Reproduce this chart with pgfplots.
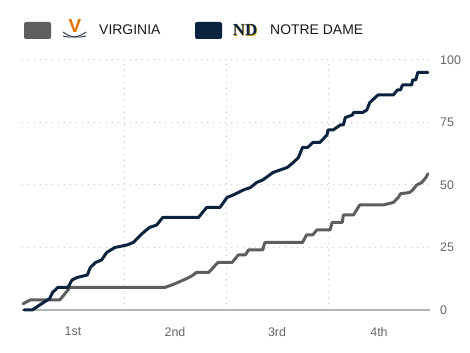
\documentclass[border=0pt]{standalone}
\usepackage{pgfplots}
\pgfplotsset{compat=1.18}
\usepackage{fontspec}
\setmainfont{Liberation Sans}
\newfontfamily\serifb{Liberation Serif}
\definecolor{uvagray}{HTML}{5E5E5E}
\definecolor{ndnavy}{HTML}{0C2340}
\definecolor{uvaorange}{HTML}{E57200}
\definecolor{uvanavy}{HTML}{232D4B}
\definecolor{ndgold}{HTML}{C99700}
\definecolor{gridc}{HTML}{C4C4C4}
\definecolor{tickc}{HTML}{666666}
\definecolor{axisc}{HTML}{B4B4B4}
\begin{document}
\begin{tikzpicture}
\path[use as bounding box] (0,0) rectangle (470bp,353bp);
% legend
\fill[uvagray, rounded corners=2bp] (24bp,314bp) rectangle (51bp,331bp);
\node[text=uvaorange, font=\bfseries\fontsize{19}{19}\selectfont, inner sep=0] at (75bp,327bp) {V};
\draw[uvanavy, line width=0.9pt] (63bp,321bp) .. controls (71bp,315bp) and (78bp,315bp) .. (86bp,317bp);
\draw[uvanavy, line width=0.9pt] (86bp,321bp) .. controls (78bp,315bp) and (71bp,315bp) .. (63bp,317bp);
\node[anchor=west, inner sep=0, text=black!90, font=\fontsize{14}{14}\selectfont] at (99bp,323bp) {VIRGINIA};
\fill[ndnavy, rounded corners=2bp] (195bp,314bp) rectangle (222bp,331bp);
\node[text=ndgold, font=\serifb\bfseries\fontsize{17}{17}\selectfont, inner sep=0] at (245.7bp,322.3bp) {ND};
\node[text=ndnavy, font=\serifb\bfseries\fontsize{17}{17}\selectfont, inner sep=0] at (245bp,323bp) {ND};
\node[anchor=west, inner sep=0, text=black!90, font=\fontsize{14}{14}\selectfont] at (270bp,323bp) {NOTRE DAME};
\begin{axis}[
  at={(22bp,43bp)}, anchor=south west,
  width=408bp, height=250bp, scale only axis,
  xmin=0, xmax=40, ymin=0, ymax=100,
  axis x line*=bottom, axis y line*=right,
  x axis line style={-, draw=axisc, line width=1.2pt},
  y axis line style={draw=none},
  xtick={5,15,25,35}, xticklabels={1st,2nd,3rd,4th},
  extra x ticks={10,20,30}, extra x tick labels={},
  extra x tick style={grid=major},
  ytick={0,25,50,75,100},
  ymajorgrids,
  major grid style={draw=gridc, line width=1pt, dash pattern=on 1pt off 5pt},
  major tick length=0pt,
  /pgf/number format/assume math mode=true,
  tick label style={text=tickc, font=\fontsize{12.5}{12.5}\selectfont, inner sep=0pt},
  xticklabel style={anchor=north, yshift=-17bp},
  yticklabel style={anchor=west, xshift=10bp},
  clip=false,
]
\addplot[uvagray, line width=3bp, line join=round, line cap=round] coordinates {
(0.1,2.5) (0.8,4) (3.7,4) (4.7,9) (14.0,9) (15.0,10.5) (16.1,12.5) (16.6,13.5) (17.1,15)
(18.3,15) (19.2,19) (20.6,19) (21.2,22) (21.9,22) (22.2,24) (23.6,24) (23.8,27)
(27.5,27) (27.9,30) (28.5,30) (28.9,32) (30.2,32) (30.4,35) (31.4,35) (31.5,38)
(32.5,38) (33.1,42) (35.4,42) (36.4,43) (36.9,45) (37.1,46.5) (38.0,47) (38.3,48)
(38.7,50) (39.2,51) (39.6,53) (39.8,54.5)
};
\addplot[ndnavy, line width=3bp, line join=round, line cap=round] coordinates {
(0.2,0) (1.0,0) (2.1,3) (2.7,4.5) (3.0,7) (3.5,9) (4.5,9) (4.9,12) (5.4,13) (6.4,14)
(6.7,17) (7.2,19) (7.8,20) (8.3,23) (9.1,25) (10.3,26) (10.9,27) (11.9,31) (12.5,33)
(13.2,34) (13.8,37) (17.3,37) (18.1,41) (19.4,41) (20.1,45) (20.7,46) (21.2,47)
(21.7,48) (22.4,49) (23.0,51) (23.6,52) (24.6,55) (25.3,56) (26.0,57) (26.6,59)
(27.1,61) (27.5,65) (28.0,65) (28.5,67) (29.2,67) (29.9,70) (30.0,72) (30.5,72)
(31.2,74) (31.5,74) (31.7,77) (32.4,78) (32.5,79) (33.4,79) (33.8,80) (34.1,83)
(34.9,86) (36.4,86) (36.8,88) (37.1,88) (37.3,90) (38.2,90) (38.3,92) (38.6,92)
(38.8,95) (39.8,95)
};
\end{axis}
\end{tikzpicture}
\end{document}
